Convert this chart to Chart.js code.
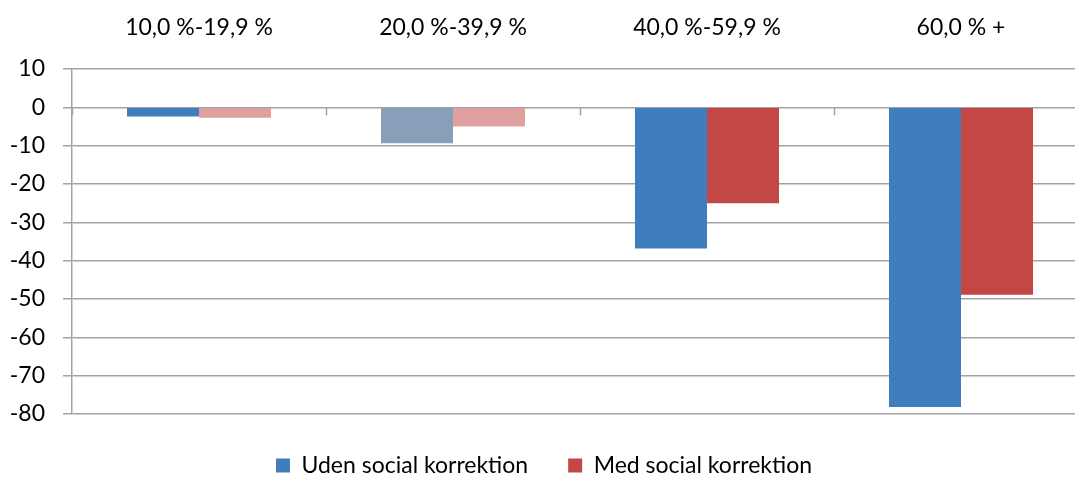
<!DOCTYPE html>
<html>
<head>
<meta charset="utf-8">
<title>Social korrektion</title>
<script src="https://cdn.jsdelivr.net/npm/chart.js@4/dist/chart.umd.min.js"></script>
<style>
  html, body { margin: 0; padding: 0; background: #fff; overflow: hidden; }
  #chartDiv { position: relative; width: 1124px; height: 477px; }
</style>
</head>
<body>
<div id="chartDiv"><canvas id="myChart"></canvas></div>
<script>
// kategorier og værdier
var kategorier = ["10,0 %-19,9 %", "20,0 %-39,9 %", "40,0 %-59,9 %", "60,0 % +"];
var udenKorrektion = [-2.4, -9.4, -36.8, -78.2];
var medKorrektion = [-2.7, -5.0, -25.0, -48.9];
var yTicks = [10, 0, -10, -20, -30, -40, -50, -60, -70, -80];

var grid = "#A3A3A3";
var fontName = "Lato, 'Open Sans', sans-serif";
var fontSize = 23;

// små streger under 0-linjen mellem kategorierne
var nulStreger = {
    id: "nulStreger",
    afterDraw: function (chart) {
        var x = chart.scales.x;
        var y0 = chart.scales.y.getPixelForValue(0);
        var ctx = chart.ctx;
        ctx.save();
        ctx.strokeStyle = grid;
        ctx.lineWidth = 1.5;
        for (var i = 0; i <= kategorier.length; i++) {
            var px = Math.round(x.getPixelForValue(i - 0.5)) + 0.5;
            ctx.beginPath();
            ctx.moveTo(px, y0);
            ctx.lineTo(px, y0 + 8);
            ctx.stroke();
        }
        ctx.restore();
    }
};

let myChart = document.getElementById("myChart").getContext("2d");
let barChart = new Chart(myChart, {
    type: "bar",
    data: {
        labels: kategorier,
        datasets: [{
            label: "Uden social korrektion",
            data: udenKorrektion,
            backgroundColor: ["#407DBD", "#889FBA", "#407DBD", "#407DBD"],
            borderWidth: 0
        }, {
            label: "Med social korrektion",
            data: medKorrektion,
            backgroundColor: ["#E0A09F", "#E0A09F", "#C24745", "#C24745"],
            borderWidth: 0
        }]
    },
    plugins: [nulStreger],
    options: {
        responsive: true,
        maintainAspectRatio: false,
        animation: false,
        layout: { padding: { top: 0, left: 0, right: 36, bottom: 0 } },
        datasets: {
            bar: { categoryPercentage: 0.567, barPercentage: 1.0 }
        },
        plugins: {
            tooltip: { enabled: false },
            legend: {
                position: "bottom",
                maxHeight: 63,
                labels: {
                    boxWidth: 14,
                    boxHeight: 14,
                    padding: 40,
                    color: "#000",
                    font: { family: fontName, size: fontSize },
                    generateLabels: function (chart) {
                        var farver = ["#407DBD", "#C24745"];
                        return chart.data.datasets.map(function (ds, i) {
                            return {
                                text: ds.label,
                                fillStyle: farver[i],
                                strokeStyle: farver[i],
                                lineWidth: 0,
                                datasetIndex: i
                            };
                        });
                    }
                }
            }
        },
        scales: {
            x: {
                position: "top",
                grid: { display: false, drawTicks: false },
                border: { display: false },
                ticks: {
                    color: "#000",
                    padding: 28,
                    font: { family: fontName, size: fontSize },
                    maxRotation: 0
                },
                afterFit: function (scale) { scale.height = 69; }
            },
            y: {
                min: -80,
                max: 10,
                grid: { color: grid, lineWidth: 1.5, tickLength: 9 },
                border: { color: grid, width: 1.5 },
                ticks: {
                    stepSize: 10,
                    color: "#000",
                    padding: 18,
                    font: { family: fontName, size: fontSize },
                    callback: function (v) { return yTicks.indexOf(v) >= 0 ? v : ""; }
                },
                afterFit: function (scale) { scale.width = 72; }
            }
        }
    }
});
</script>
</body>
</html>
